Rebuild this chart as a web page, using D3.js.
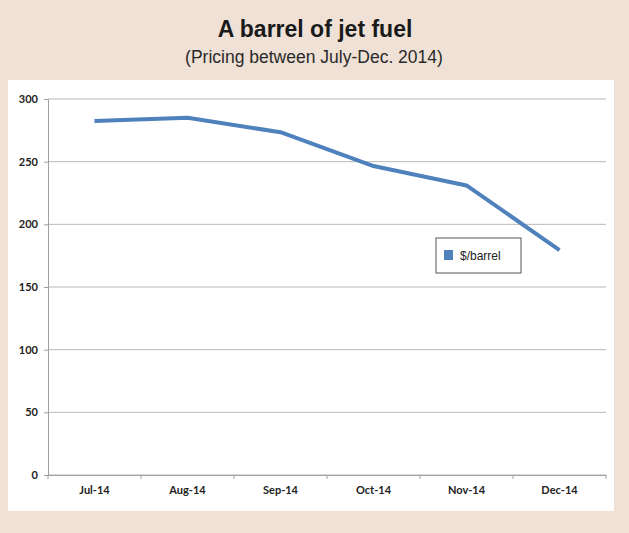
<!DOCTYPE html>
<html>
<head>
<meta charset="utf-8">
<script src="https://cdn.jsdelivr.net/npm/d3@7"></script>
<style>
  body { margin: 0; background: #efe1d5; }
</style>
</head>
<body>
<div id="grafico"></div>
<script>
// dados do gráfico
var meses = ['Jul-14', 'Aug-14', 'Sep-14', 'Oct-14', 'Nov-14', 'Dec-14'];
var precos = [282.5, 285, 273.5, 246.5, 231, 179.5];
var ticksY = [0, 50, 100, 150, 200, 250, 300];
var nomeSerie = '$/barrel';

var largura = 629, altura = 533;
var azul = '#4f81bd';

var svg = d3.select('#grafico').append('svg')
    .attr('width', largura)
    .attr('height', altura);

// fundo
svg.append('rect').attr('width', largura).attr('height', altura).style('fill', '#efe1d5');

// títulos
svg.append('text')
    .text('A barrel of jet fuel')
    .attr('x', 315).attr('y', 37)
    .attr('text-anchor', 'middle')
    .style('font-family', 'Liberation Sans, Arial, sans-serif')
    .style('font-weight', 'bold')
    .style('font-size', '23px')
    .style('fill', '#1a1a1a');

svg.append('text')
    .text('(Pricing between July-Dec. 2014)')
    .attr('x', 314).attr('y', 63)
    .attr('text-anchor', 'middle')
    .style('font-family', 'Liberation Sans, Arial, sans-serif')
    .style('font-size', '17.5px')
    .style('fill', '#2a2a2a');

// painel branco
svg.append('rect')
    .attr('x', 8).attr('y', 80)
    .attr('width', 606).attr('height', 431)
    .style('fill', '#fff');

var esq = 48, dir = 606, topo = 99, base = 475;

var x = d3.scaleBand().domain(meses).range([esq, dir]);
var y = d3.scaleLinear().domain([0, 300]).range([base, topo]);

// linhas de grade
svg.append('g').attr('id', 'ggrade')
    .selectAll('line')
    .data(ticksY)
    .enter()
    .append('line')
    .attr('x1', esq).attr('x2', dir)
    .attr('y1', function(d) { return y(d); })
    .attr('y2', function(d) { return y(d); })
    .style('stroke', '#b8b8b8')
    .style('stroke-width', 1);

// eixo y
var eixoY = svg.append('g')
    .attr('transform', 'translate(' + esq + ',0)')
    .call(d3.axisLeft(y).tickValues(ticksY).tickSize(4).tickPadding(6));
eixoY.select('.domain').style('stroke', '#a0a0a0');
eixoY.selectAll('.tick line').style('stroke', '#a0a0a0');

// eixo x
var eixoX = svg.append('g')
    .attr('transform', 'translate(0,' + base + ')')
    .call(d3.axisBottom(x).tickSize(0).tickPadding(11));
eixoX.select('.domain').style('stroke', '#a0a0a0');

// marcas entre categorias
svg.append('g').selectAll('line')
    .data(meses.concat(['fim']))
    .enter()
    .append('line')
    .attr('x1', function(d, i) { return esq + i * x.step(); })
    .attr('x2', function(d, i) { return esq + i * x.step(); })
    .attr('y1', base).attr('y2', base + 4)
    .style('stroke', '#a0a0a0');

svg.selectAll('.tick text')
    .style('font-family', 'Lato, "Open Sans", sans-serif')
    .style('font-weight', 'bold')
    .style('font-size', '11px')
    .style('fill', '#222');

// linha da série
var linha = d3.line()
    .x(function(d, i) { return x(meses[i]) + x.bandwidth() / 2; })
    .y(function(d) { return y(d); });

svg.append('path')
    .datum(precos)
    .attr('d', linha)
    .style('fill', 'none')
    .style('stroke', azul)
    .style('stroke-width', 4)
    .style('stroke-linejoin', 'round');

// legenda
var leg = svg.append('g').attr('transform', 'translate(436,238)');
leg.append('rect')
    .attr('width', 85).attr('height', 35)
    .style('fill', '#fff')
    .style('stroke', '#555')
    .style('stroke-width', 1);
leg.append('rect')
    .attr('x', 8).attr('y', 12)
    .attr('width', 9).attr('height', 10)
    .style('fill', azul);
leg.append('text')
    .text(nomeSerie)
    .attr('x', 24).attr('y', 22)
    .style('font-family', 'Liberation Sans, Arial, sans-serif')
    .style('font-size', '12px')
    .style('fill', '#222');
</script>
</body>
</html>
